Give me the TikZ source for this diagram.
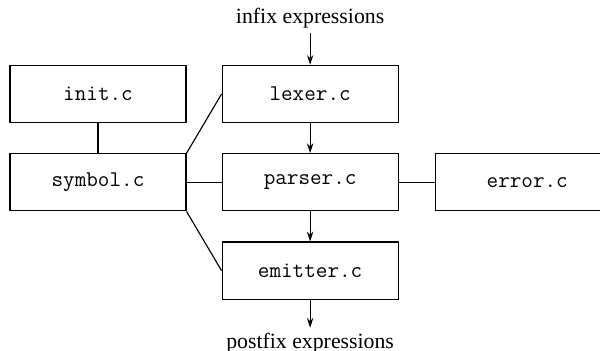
\documentclass[tikz,border=0pt]{standalone}
\usepackage{fontspec}
\setmainfont{Liberation Serif}
\usetikzlibrary{positioning, arrows.meta}

\begin{document}
\begin{tikzpicture}[
    module/.style={
      draw,
      line width=0.8pt,
      minimum width=4.4cm,
      minimum height=1.43cm,
      font=\fontsize{16}{19}\selectfont\ttfamily
    },
    stream/.style={
      font=\fontsize{15.5}{18}\selectfont
    },
    link/.style={line width=0.8pt},
    arrow/.style={line width=0.8pt, -{Stealth[length=7pt, width=4.5pt]}},
]

% Page
\clip (0,0) rectangle (15,-8.775);
\useasboundingbox (0,0) rectangle (15,-8.775);

% Modules
\node[module] (init) at (2.45,-2.35) {init.c};
\node[module, below=0.75cm of init] (symbol) {symbol.c};
\node[module, right=0.875cm of init] (lexer) {lexer.c};
\node[module, below=0.75cm of lexer] (parser) {parser.c};
\node[module, below=0.75cm of parser] (emitter) {emitter.c};
\node[module, right=0.9cm of parser, minimum width=4.6cm] (error) {error.c};

% Input and output
\node[stream, above=0.8cm of lexer] (infix) {infix expressions};
\node[stream, below=0.7cm of emitter] (postfix) {postfix expressions};

% Arrows
\draw[arrow] (infix) -- (lexer);
\draw[arrow] (lexer) -- (parser);
\draw[arrow] (parser) -- (emitter);
\draw[arrow] (emitter) -- (postfix);

% Links
\draw[link] (init) -- (symbol);
\draw[link] (symbol.north east) -- (lexer.west);
\draw[link] (symbol) -- (parser);
\draw[link] (symbol.south east) -- (emitter.west);
\draw[link] (parser) -- (error);

\end{tikzpicture}
\end{document}
